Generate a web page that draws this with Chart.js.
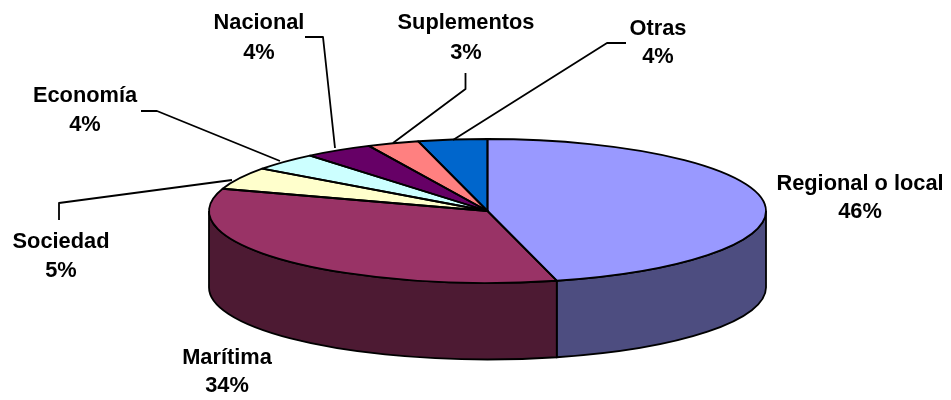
<!DOCTYPE html>
<html>
<head>
<meta charset="utf-8">
<style>
  html, body { margin: 0; padding: 0; background: #fff; }
  canvas { display: block; }
</style>
<script src="https://cdn.jsdelivr.net/npm/chart.js@4"></script>
</head>
<body>
<canvas id="myChart" width="951" height="400"></canvas>
<script>
const categories = ['Regional o local', 'Marítima', 'Sociedad', 'Economía', 'Nacional', 'Suplementos', 'Otras'];
const shares = [46, 34, 5, 4, 4, 3, 4];
const topColors = ['#9999FF', '#993366', '#FFFFCC', '#CCFFFF', '#660066', '#FF8080', '#0066CC'];
const wallColors = ['#4D4D80', '#4D1A33', '#808066', '#668080', '#330033', '#804040', '#003366'];

// where the tilted disc sits on the page
const disc = { x: 487.5, y: 211, rx: 278.5, ry: 72, depth: 76.5 };

// label anchors, same order as categories: centre x, baseline of each line
const labelSpots = [
  [860, 190, 218],
  [227, 364, 392],
  [61, 248, 277],
  [85, 102, 131],
  [259, 29, 59],
  [466, 29, 59],
  [658, 35, 63]
];

// leader lines, same order as categories (the two big slices have none)
const leaders = [
  null,
  null,
  [[59, 220], [59, 203], [232, 180]],
  [[141, 111], [157, 111], [280, 161]],
  [[305, 37], [323, 37], [335, 148]],
  [[465.5, 73], [465.5, 89], [393, 143]],
  [[626, 43], [607, 43], [453, 140]]
];

const tiltedPie = {
  id: 'tiltedPie',
  beforeDatasetsDraw(chart) {
    const ctx = chart.ctx;
    const arcs = chart.getDatasetMeta(0).data;

    // side wall, only the front half of the disc shows one
    ctx.save();
    ctx.strokeStyle = '#000';
    ctx.lineWidth = 1.8;
    arcs.forEach((arc, i) => {
      const a = Math.max(arc.startAngle, 0);
      const b = Math.min(arc.endAngle, Math.PI);
      if (b <= a) return;
      ctx.beginPath();
      ctx.ellipse(disc.x, disc.y, disc.rx, disc.ry, 0, a, b);
      ctx.ellipse(disc.x, disc.y + disc.depth, disc.rx, disc.ry, 0, b, a, true);
      ctx.closePath();
      ctx.fillStyle = wallColors[i];
      ctx.fill();
      ctx.stroke();
    });
    ctx.restore();

    // squash the library's round pie into the disc
    const first = arcs[0];
    ctx.save();
    ctx.translate(disc.x, disc.y);
    ctx.scale(disc.rx / first.outerRadius, disc.ry / first.outerRadius);
    ctx.translate(-first.x, -first.y);
  },
  afterDatasetsDraw(chart) {
    const ctx = chart.ctx;
    ctx.restore();

    ctx.save();
    ctx.strokeStyle = '#000';
    ctx.lineWidth = 1.8;
    ctx.lineJoin = 'round';
    chart.getDatasetMeta(0).data.forEach(arc => {
      ctx.beginPath();
      ctx.moveTo(disc.x, disc.y);
      ctx.ellipse(disc.x, disc.y, disc.rx, disc.ry, 0, arc.startAngle, arc.endAngle);
      ctx.closePath();
      ctx.stroke();
    });

    leaders.forEach(points => {
      if (!points) return;
      ctx.beginPath();
      points.forEach((p, k) => k ? ctx.lineTo(p[0], p[1]) : ctx.moveTo(p[0], p[1]));
      ctx.stroke();
    });

    ctx.fillStyle = '#000';
    ctx.font = 'bold 21.8px "Liberation Sans", Arial, sans-serif';
    ctx.textAlign = 'center';
    ctx.textBaseline = 'alphabetic';
    categories.forEach((name, i) => {
      const spot = labelSpots[i];
      ctx.fillText(name, spot[0], spot[1]);
      ctx.fillText(shares[i] + '%', spot[0], spot[2]);
    });
    ctx.restore();
  }
};

new Chart(document.querySelector('#myChart'), {
  type: 'pie',
  data: {
    labels: categories,
    datasets: [{
      data: shares,
      backgroundColor: topColors,
      borderWidth: 0,
      clip: false
    }]
  },
  options: {
    responsive: false,
    animation: false,
    plugins: {
      legend: { display: false },
      tooltip: { enabled: false }
    }
  },
  plugins: [tiltedPie]
});
</script>
</body>
</html>
